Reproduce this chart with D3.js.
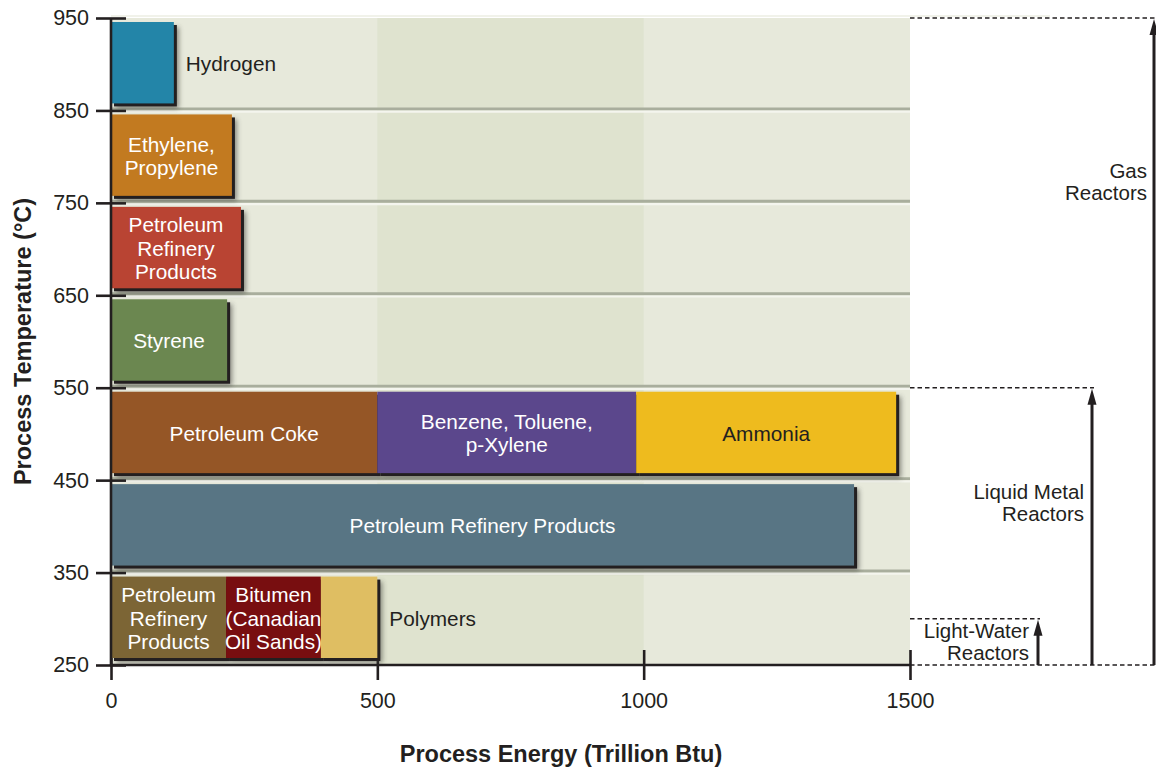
<!DOCTYPE html>
<html><head><meta charset="utf-8">
<script src="https://cdn.jsdelivr.net/npm/d3@7"></script>
<style>
html,body{margin:0;padding:0;background:#fff;}
text{font-family:"Liberation Sans",Arial,sans-serif;}
</style></head>
<body><svg id="chart" width="1156" height="769"></svg>
<script>
// ---- data ----
const categories = ["Hydrogen","Ethylene,\nPropylene","Petroleum\nRefinery\nProducts","Styrene","Petroleum Coke","Benzene, Toluene,\np-Xylene","Ammonia","Petroleum Refinery Products","Petroleum\nRefinery\nProducts","Bitumen\n(Canadian\nOil Sands)","Polymers"];
const tempLow    = [850,750,650,550,450,450,450,350,250,250,250];
const tempHigh   = [950,850,750,650,550,550,550,450,350,350,350];
const energyStart= [0,0,0,0,0,500,986,0,0,216,394];
const energyEnd  = [118,227,244,218,500,986,1474,1395,216,394,500];
const xTicks = [0,500,1000,1500];
const yTicks = [250,350,450,550,650,750,850,950];
const reactorNames = ["Light-Water\nReactors","Liquid Metal\nReactors","Gas\nReactors"];
const reactorLow  = [250,250,250];
const reactorHigh = [300,550,950];

// ---- styles ----
const barColors = ["#2385a8","#c27a20","#b94433","#6b8750","#955626","#5b478c","#eebb1e","#587584","#7c6535","#780e10","#dfbe62"];
const labelDark = [true,false,false,false,false,false,true,false,false,false,true];
const labelOutside = [true,false,false,false,false,false,false,false,false,false,true];
const arrowX = [1038,1092,1154];

const svg = d3.select("#chart");
const x = d3.scaleLinear().domain([0,1500]).range([111,910]);
const y = d3.scaleLinear().domain([250,950]).range([665,18]);
const ink = "#231f20";

// background
svg.append("rect").attr("x",x(0)).attr("y",y(950)).attr("width",x(1500)-x(0)).attr("height",y(250)-y(950)).attr("fill","#e7e9db");
svg.append("rect").attr("x",x(500)).attr("y",y(950)).attr("width",x(1000)-x(500)).attr("height",y(250)-y(950)).attr("fill","#dfe3cf");
svg.append("line").attr("x1",x(0)).attr("x2",x(1500)+140).attr("y1",y(950)-2).attr("y2",y(950)-2).attr("stroke","#f1f2ea").attr("stroke-width",2);

// grid separators
const gl = yTicks.filter(t=>t>250 && t<950);
svg.selectAll(".gg").data(gl).enter().append("line")
  .attr("x1",x(0)).attr("x2",x(1500)).attr("y1",d=>y(d)-1.5).attr("y2",d=>y(d)-1.5)
  .attr("stroke","#a9ae9d").attr("stroke-width",3);
svg.selectAll(".gw").data(gl).enter().append("line")
  .attr("x1",x(0)).attr("x2",x(1500)).attr("y1",d=>y(d)+1.2).attr("y2",d=>y(d)+1.2)
  .attr("stroke","#f4f5ee").attr("stroke-width",2.2);

// axes (ticks under bars)
const yAxis = svg.append("g").attr("transform",`translate(${x(0)},0)`)
  .call(d3.axisLeft(y).tickValues(yTicks).tickSizeInner(15).tickSizeOuter(0).tickPadding(7).tickFormat(d3.format("d")));
yAxis.select(".domain").remove();
yAxis.selectAll(".tick line").attr("x1",15).attr("x2",-15).attr("stroke",ink).attr("stroke-width",2.6);
yAxis.selectAll(".tick text").attr("font-size","21.5px").attr("fill",ink).attr("x",-22).style("font-family","Liberation Sans, Arial, sans-serif");

const xAxis = svg.append("g").attr("transform",`translate(0,${y(250)})`)
  .call(d3.axisBottom(x).tickValues(xTicks).tickSizeInner(15).tickSizeOuter(0).tickFormat(d3.format("d")));
xAxis.select(".domain").remove();
xAxis.selectAll(".tick line").attr("y1",-15).attr("y2",15).attr("stroke",ink).attr("stroke-width",2.6);
xAxis.selectAll(".tick text").attr("font-size","21.5px").attr("fill",ink).attr("y",28).attr("dy","0.71em").style("font-family","Liberation Sans, Arial, sans-serif");

// shadow filter
const defs = svg.append("defs");
defs.append("filter").attr("id","blur").attr("x","-20%").attr("y","-30%").attr("width","150%").attr("height","170%")
  .append("feGaussianBlur").attr("stdDeviation",2.5);

const idx = d3.range(categories.length);
const bx = i => x(energyStart[i]);
const bw = i => x(energyEnd[i]) - x(energyStart[i]);
const by = i => y(tempHigh[i]) + 4;
const bh = i => y(tempLow[i]) - y(tempHigh[i]) - 11;

svg.append("g").selectAll("rect").data(idx).enter().append("rect")
  .attr("x",i=>bx(i)+5).attr("y",i=>by(i)+5).attr("width",bw).attr("height",bh)
  .attr("fill","#3a3a36").attr("opacity",0.55).attr("filter","url(#blur)");
svg.append("g").selectAll("rect").data(idx).enter().append("rect")
  .attr("x",i=>bx(i)+3).attr("y",i=>by(i)+3).attr("width",bw).attr("height",bh)
  .attr("fill",ink);
svg.append("g").selectAll("rect").data(idx).enter().append("rect")
  .attr("x",bx).attr("y",by).attr("width",bw).attr("height",bh)
  .attr("fill",i=>barColors[i]);

// bar labels
const lh = 23.5;
idx.forEach(i=>{
  const lines = categories[i].split("\n");
  const cy = by(i) + bh(i)/2 + 1;
  const outside = labelOutside[i];
  const tx = outside ? x(energyEnd[i]) + 12 : bx(i) + bw(i)/2;
  const t = svg.append("text")
    .attr("text-anchor", outside ? "start" : "middle")
    .attr("font-size","20.8px")
    .attr("fill", labelDark[i] ? ink : "#ffffff");
  lines.forEach((ln,k)=>{
    t.append("tspan").attr("x", tx)
      .attr("y", cy + (k - (lines.length-1)/2)*lh).attr("dy","0.35em").text(ln);
  });
});

// axis lines on top
svg.append("line").attr("x1",x(0)).attr("x2",x(0)).attr("y1",y(950)).attr("y2",y(250)+1).attr("stroke",ink).attr("stroke-width",2.6);
svg.append("line").attr("x1",x(0)-1).attr("x2",x(1500)).attr("y1",y(250)).attr("y2",y(250)).attr("stroke",ink).attr("stroke-width",2.6);

// reactor annotations
svg.append("line").attr("x1",x(1500)).attr("x2",arrowX[2]+2).attr("y1",y(250)).attr("y2",y(250))
  .attr("stroke",ink).attr("stroke-width",1.4).attr("stroke-dasharray","4.5,3");
reactorNames.forEach((nm,i)=>{
  const ax = arrowX[i];
  svg.append("line").attr("x1",x(1500)).attr("x2",ax+2).attr("y1",y(reactorHigh[i])).attr("y2",y(reactorHigh[i]))
    .attr("stroke",ink).attr("stroke-width",1.4).attr("stroke-dasharray","4.5,3");
  const top = y(reactorHigh[i]) + 1;
  svg.append("line").attr("x1",ax).attr("x2",ax).attr("y1",y(reactorLow[i])).attr("y2",top+12)
    .attr("stroke",ink).attr("stroke-width",3);
  svg.append("path").attr("d",`M${ax},${top} L${ax-4.5},${top+16} L${ax+4.5},${top+16} Z`).attr("fill",ink);
});
// reactor labels
const rRight = [1029,1084,1147];
reactorNames.forEach((nm,i)=>{
  const lines = nm.split("\n");
  const base = [y(300)+19, y(550)+111, y(950)+160][i];
  const t = svg.append("text").attr("text-anchor","end").attr("font-size","20.5px").attr("fill",ink);
  lines.forEach((ln,k)=>t.append("tspan").attr("x",rRight[i]).attr("y",base+k*22).text(ln));
});

// axis titles
svg.append("text").attr("x",561).attr("y",762).attr("text-anchor","middle")
  .attr("font-size","23.5px").attr("font-weight","bold").attr("fill",ink).text("Process Energy (Trillion Btu)");
svg.append("text").attr("transform",`translate(31,${(y(250)+y(950))/2}) rotate(-90)`).attr("text-anchor","middle")
  .attr("font-size","23.5px").attr("font-weight","bold").attr("fill",ink).text("Process Temperature (°C)");
</script></body></html>
